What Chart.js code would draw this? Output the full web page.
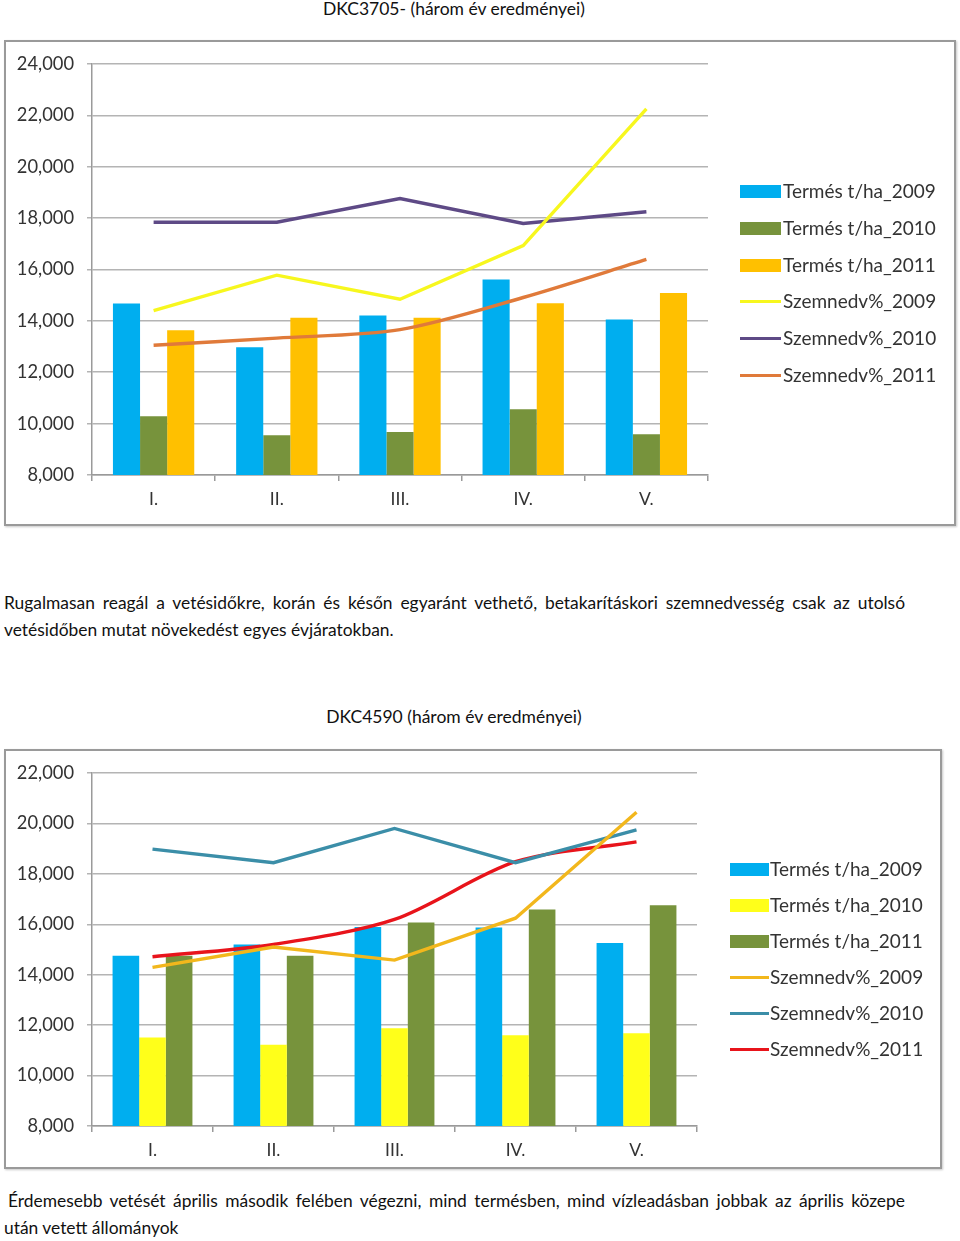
<!DOCTYPE html>
<html>
<head>
<meta charset="utf-8">
<script src="https://cdn.jsdelivr.net/npm/chart.js@4.4.1/dist/chart.umd.min.js"></script>
<style>
  html, body { margin: 0; padding: 0; background: #fff; }
  body { position: relative; width: 960px; height: 1241px; overflow: hidden; font-family: Lato, "Open Sans", sans-serif; color: #111; }
  .title { position: absolute; left: 0; width: 908px; text-align: center; font-size: 17.5px; line-height: 20px; }
  .frame { position: absolute; box-sizing: border-box; border: 2px solid #9a9a9a; box-shadow: 1px 1px 2px #c8c8c8; background: #fff; }
  canvas { position: absolute; }
  .para { position: absolute; left: 4px; width: 901px; font-size: 17.4px; line-height: 27px; }
  .para .j2 { text-align: justify; text-align-last: justify; }
  .legend { position: absolute; font-size: 19px; color: #333; }
  .legend .item { position: absolute; left: 0; height: 24px; white-space: nowrap; }
  .legend .sym { position: absolute; left: 0; }
  .legend .txt { position: absolute; top: 0; line-height: 24px; }
</style>
</head>
<body>
<div class="title" style="top:-1px;">DKC3705- (három év eredményei)</div>
<div class="frame" style="left:4px; top:40px; width:952px; height:486px;"></div>
<canvas id="c1" width="952" height="486" style="left:4px; top:40px;"></canvas>
<div class="legend" id="lg1" style="left:740px; top:0;"></div>

<div class="para" style="top:589px;">
  <div class="j2">Rugalmasan reagál a vetésidőkre, korán és későn egyaránt vethető, betakarításkori szemnedvesség csak az utolsó</div>
  <div>vetésidőben mutat növekedést egyes évjáratokban.</div>
</div>

<div class="title" style="top:707px;">DKC4590 (három év eredményei)</div>
<div class="frame" style="left:4px; top:749px; width:938px; height:420px;"></div>
<canvas id="c2" width="938" height="420" style="left:4px; top:749px;"></canvas>
<div class="legend" id="lg2" style="left:730px; top:0;"></div>

<div class="para" style="top:1187px;">
  <div class="j2" style="padding-left:4px;">Érdemesebb vetését április második felében végezni, mind termésben, mind vízleadásban jobbak az április közepe</div>
  <div>után vetett állományok</div>
</div>

<script>
// ---------- DATA ----------
const categories = ['I.', 'II.', 'III.', 'IV.', 'V.'];

// Chart 1: DKC3705
const c1Labels = ['Termés t/ha_2009', 'Termés t/ha_2010', 'Termés t/ha_2011', 'Szemnedv%_2009', 'Szemnedv%_2010', 'Szemnedv%_2011'];
const c1Yield2009 = [14.68, 12.97, 14.21, 15.61, 14.05];
const c1Yield2010 = [10.29, 9.55, 9.67, 10.56, 9.59];
const c1Yield2011 = [13.63, 14.12, 14.12, 14.69, 15.08];
const c1Moist2009 = [14.40, 15.78, 14.84, 16.93, 22.25];
const c1Moist2010 = [17.84, 17.84, 18.76, 17.79, 18.25];
const c1Moist2011 = [13.05, 13.33, 13.66, 14.91, 16.39];
const c1Ticks = { min: 8, max: 24, step: 2 };

// Chart 2: DKC4590
const c2Labels = ['Termés t/ha_2009', 'Termés t/ha_2010', 'Termés t/ha_2011', 'Szemnedv%_2009', 'Szemnedv%_2010', 'Szemnedv%_2011'];
const c2Yield2009 = [14.75, 15.20, 15.89, 15.87, 15.26];
const c2Yield2010 = [11.51, 11.22, 11.88, 11.60, 11.68];
const c2Yield2011 = [14.75, 14.75, 16.07, 16.59, 16.75];
const c2Moist2009 = [14.29, 15.10, 14.58, 16.24, 20.44];
const c2Moist2010 = [18.98, 18.44, 19.80, 18.44, 19.74];
const c2Moist2011 = [14.71, 15.20, 16.19, 18.48, 19.27];
const c2Ticks = { min: 8, max: 22, step: 2 };

// ---------- STYLES ----------
const FONT = 'Lato, "Open Sans", sans-serif';
const c1Colors = ['#00AEEF', '#77933C', '#FFC000', '#F7F71E', '#5E4A86', '#E07A3A'];
const c2Colors = ['#00AEEF', '#FFFF1A', '#77933C', '#F2B71C', '#3B8EA8', '#E8141B'];

function fmt(v) { return v.toFixed(3).replace('.', ','); }

function buildChart(id, labels, yields, moists, colors, ticks, pad, tensions) {
  const datasets = [];
  yields.forEach((d, i) => datasets.push({
    type: 'bar', label: labels[i], data: d, backgroundColor: colors[i],
    borderWidth: 0, order: 2, categoryPercentage: 0.66, barPercentage: 1.0
  }));
  moists.forEach((d, i) => datasets.push({
    type: 'line', label: labels[3 + i], data: d, borderColor: colors[3 + i],
    backgroundColor: colors[3 + i], borderWidth: 3.4, pointRadius: 0, fill: false,
    tension: tensions[i], order: 1
  }));
  return new Chart(document.getElementById(id), {
    data: { labels: categories, datasets },
    options: {
      responsive: false, animation: false, devicePixelRatio: 1,
      layout: { padding: pad },
      plugins: { legend: { display: false }, tooltip: { enabled: false } },
      scales: {
        x: {
          offset: true,
          grid: { display: true, drawOnChartArea: false, drawTicks: true, tickLength: 6, offset: true, color: '#9a9a9a', lineWidth: 1.5 },
          border: { display: true, color: '#9a9a9a', width: 1.5 },
          ticks: { color: '#333', font: { family: FONT, size: 17.5 }, padding: 8 },
          afterFit: s => { s.height = pad.xh; }
        },
        y: {
          min: ticks.min, max: ticks.max,
          grid: { color: '#b4b4b4', lineWidth: 1.5, drawTicks: true, tickLength: 5 },
          border: { display: true, color: '#9a9a9a', width: 1.5 },
          ticks: { stepSize: ticks.step, color: '#333', font: { family: FONT, size: 18.3 }, padding: 13, callback: v => fmt(v) },
          afterFit: s => { s.width = 88; }
        }
      }
    }
  });
}

function buildLegend(id, labels, colors, top0, gap, symW, txtLeft) {
  const el = document.getElementById(id);
  labels.forEach((t, i) => {
    const it = document.createElement('div');
    it.className = 'item';
    it.style.top = (top0 + i * gap - 12) + 'px';
    const s = document.createElement('div');
    s.className = 'sym';
    if (i < 3) { s.style.top = '6px'; s.style.height = '13px'; }
    else { s.style.top = '11px'; s.style.height = '3px'; }
    s.style.width = symW + 'px';
    s.style.background = colors[i];
    const tx = document.createElement('div');
    tx.className = 'txt';
    tx.style.left = txtLeft + 'px';
    tx.textContent = t;
    it.appendChild(s); it.appendChild(tx);
    el.appendChild(it);
  });
}

buildChart('c1', c1Labels, [c1Yield2009, c1Yield2010, c1Yield2011], [c1Moist2009, c1Moist2010, c1Moist2011],
  c1Colors, c1Ticks, { left: 0, top: 23, right: 248, bottom: 11, xh: 40 }, [0, 0, 0.3]);
buildChart('c2', c2Labels, [c2Yield2009, c2Yield2010, c2Yield2011], [c2Moist2009, c2Moist2010, c2Moist2011],
  c2Colors, c2Ticks, { left: 0, top: 22, right: 245, bottom: 11, xh: 32 }, [0, 0, 0.3]);

buildLegend('lg1', c1Labels, c1Colors, 191, 36.8, 41, 43);
buildLegend('lg2', c2Labels, c2Colors, 869, 36, 39, 40);
</script>
</body>
</html>
